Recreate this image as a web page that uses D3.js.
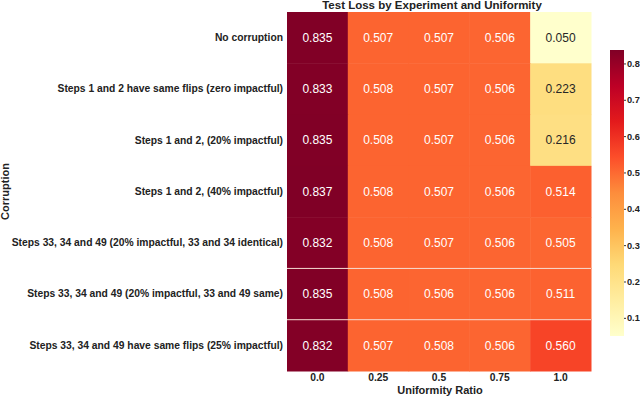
<!DOCTYPE html>
<html>
<head>
<meta charset="utf-8">
<script src="https://cdn.jsdelivr.net/npm/d3@7"></script>
<style>
  body { margin: 0; background: #fff; }
  svg { font-family: "Liberation Sans", Arial, sans-serif; }
</style>
</head>
<body>
<div class="canvas"></div>
<script>
const corruptions = [
    "No corruption",
    "Steps 1 and 2 have same flips (zero impactful)",
    "Steps 1 and 2, (20% impactful)",
    "Steps 1 and 2, (40% impactful)",
    "Steps 33, 34 and 49 (20% impactful, 33 and 34 identical)",
    "Steps 33, 34 and 49 (20% impactful, 33 and 49 same)",
    "Steps 33, 34 and 49 have same flips (25% impactful)"
]
const ratios = ["0.0", "0.25", "0.5", "0.75", "1.0"]
const losses = [
    [0.835, 0.507, 0.507, 0.506, 0.050],
    [0.833, 0.508, 0.507, 0.506, 0.223],
    [0.835, 0.508, 0.507, 0.506, 0.216],
    [0.837, 0.508, 0.507, 0.506, 0.514],
    [0.832, 0.508, 0.507, 0.506, 0.505],
    [0.835, 0.508, 0.506, 0.506, 0.511],
    [0.832, 0.507, 0.508, 0.506, 0.560]
]
const colorTicks = [0.1, 0.2, 0.3, 0.4, 0.5, 0.6, 0.7, 0.8]
// YlOrRd anchor colours, interpolated linearly like matplotlib does
const ylOrRd = ["#ffffcc", "#ffeda0", "#fed976", "#feb24c", "#fd8d3c", "#fc4e2a", "#e31a1c", "#bd0026", "#800026"]

const width = 640
const height = 396

const svg = d3.select(".canvas")
    .append("svg")
    .attr("width", width)
    .attr("height", height)

const margin = {top: 12, left: 287, right: 49, bottom: 25}
const graphWidth = width - margin.left - margin.right
const graphHeight = height - margin.top - margin.bottom

const graph = svg.append("g")
    .attr("transform", `translate(${margin.left}, ${margin.top})`)

const cells = []
losses.forEach((row, i) => row.forEach((v, j) => cells.push({row: corruptions[i], col: ratios[j], v: v})))

const allVals = cells.map(d => d.v)
const vmin = d3.min(allVals)
const vmax = d3.max(allVals)
const cmap = d3.piecewise(d3.interpolateRgb, ylOrRd)
const color = d3.scaleSequential(cmap).domain([vmin, vmax])

const scaleX = d3.scaleBand().domain(ratios).range([0, graphWidth])
const scaleY = d3.scaleBand().domain(corruptions).range([0, graphHeight])

graph.selectAll("rect.cell")
    .data(cells)
    .enter()
    .append("rect")
    .attr("class", "cell")
    .attr("x", d => scaleX(d.col))
    .attr("y", d => scaleY(d.row))
    .attr("width", scaleX.bandwidth() + 0.5)
    .attr("height", scaleY.bandwidth() + 0.5)
    .attr("fill", d => color(d.v))

// thin white separators seen in the original rendering
graph.selectAll("line.sep")
    .data(corruptions.slice(5))
    .enter()
    .append("line")
    .attr("x1", 0)
    .attr("x2", graphWidth)
    .attr("y1", d => scaleY(d))
    .attr("y2", d => scaleY(d))
    .attr("stroke", "#f6dcd2")
    .attr("stroke-width", 1)

graph.selectAll("text.val")
    .data(cells)
    .enter()
    .append("text")
    .attr("class", "val")
    .attr("x", d => scaleX(d.col) + scaleX.bandwidth() / 2)
    .attr("y", d => scaleY(d.row) + scaleY.bandwidth() / 2)
    .attr("dy", "0.35em")
    .attr("text-anchor", "middle")
    .attr("font-size", 12)
    .attr("fill", d => d3.lab(color(d.v)).l > 75 ? "#262626" : "#ffffff")
    .text(d => d.v.toFixed(3))

const xAxis = d3.axisBottom(scaleX).tickSize(0).tickPadding(3)
const yAxis = d3.axisLeft(scaleY).tickSize(0).tickPadding(4)

const xAxisGroup = graph.append("g")
    .attr("transform", `translate(0, ${graphHeight})`)
    .call(xAxis)
const yAxisGroup = graph.append("g").call(yAxis)

xAxisGroup.select(".domain").remove()
yAxisGroup.select(".domain").remove()

svg.selectAll(".tick text")
    .attr("font-size", 10.3)
    .attr("font-weight", "bold")
    .attr("fill", "#222")
    .attr("font-family", "Liberation Sans, Arial, sans-serif")

svg.append("text")
    .attr("x", margin.left + graphWidth / 2 - 7)
    .attr("y", 9)
    .attr("text-anchor", "middle")
    .attr("font-size", 11.5)
    .attr("font-weight", "bold")
    .attr("fill", "#222")
    .text("Test Loss by Experiment and Uniformity")

svg.append("text")
    .attr("x", margin.left + graphWidth / 2 + 1)
    .attr("y", 394)
    .attr("text-anchor", "middle")
    .attr("font-size", 11)
    .attr("font-weight", "bold")
    .attr("fill", "#222")
    .text("Uniformity Ratio")

svg.append("text")
    .attr("transform", `translate(9, ${margin.top + graphHeight / 2}) rotate(-90)`)
    .attr("text-anchor", "middle")
    .attr("font-size", 11)
    .attr("font-weight", "bold")
    .attr("fill", "#222")
    .text("Corruption")

// colour bar
const cb = {x: 610, y: 50, w: 14, h: 286}
const defs = svg.append("defs")
const grad = defs.append("linearGradient")
    .attr("id", "cbgrad")
    .attr("x1", 0).attr("x2", 0).attr("y1", 1).attr("y2", 0)
d3.range(0, 1.0001, 0.0625).forEach(t => {
    grad.append("stop")
        .attr("offset", t)
        .attr("stop-color", cmap(t))
})
svg.append("rect")
    .attr("x", cb.x).attr("y", cb.y)
    .attr("width", cb.w).attr("height", cb.h)
    .attr("fill", "url(#cbgrad)")

const scaleC = d3.scaleLinear().domain([vmin, vmax]).range([cb.y + cb.h, cb.y])
const cAxis = d3.axisRight(scaleC).tickValues(colorTicks).tickSize(2).tickPadding(1)
    .tickFormat(d3.format(".1f"))
const cAxisGroup = svg.append("g")
    .attr("transform", `translate(${cb.x + cb.w}, 0)`)
    .call(cAxis)
cAxisGroup.select(".domain").remove()
cAxisGroup.selectAll("line").attr("stroke", "#333")
cAxisGroup.selectAll("text")
    .attr("font-size", 9.2)
    .attr("font-weight", "bold")
    .attr("fill", "#222")
</script>
</body>
</html>
